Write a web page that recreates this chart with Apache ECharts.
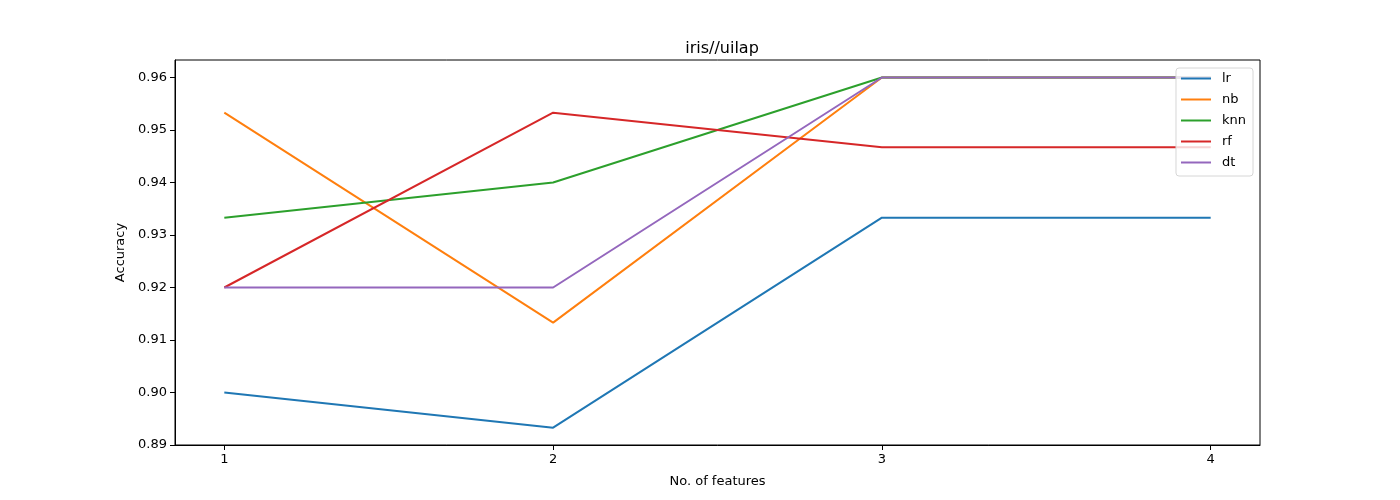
<!DOCTYPE html>
<html>
<head>
<meta charset="utf-8">
<title>iris//uilap</title>
<script src="https://cdn.jsdelivr.net/npm/echarts@6/dist/echarts.min.js"></script>
<style>
  html, body { margin: 0; padding: 0; background: #fff; }
  #main { width: 1400px; height: 500px; }
</style>
</head>
<body>
<div id="main"></div>
<script>
// 数据
const features = [1, 2, 3, 4]
const lr = [0.9, 0.8933, 0.9333, 0.9333]
const nb = [0.9533, 0.9133, 0.96, 0.96]
const knn = [0.9333, 0.94, 0.96, 0.96]
const rf = [0.92, 0.9533, 0.9467, 0.9467]
const dt = [0.92, 0.92, 0.96, 0.96]
const yTicks = [0.89, 0.90, 0.91, 0.92, 0.93, 0.94, 0.95, 0.96]

const names = ['lr', 'nb', 'knn', 'rf', 'dt']
const values = [lr, nb, knn, rf, dt]
const colors = ['#1f77b4', '#ff7f0e', '#2ca02c', '#d62728', '#9467bd']

const font = 'DejaVu Sans'

var myChart = echarts.init(document.querySelector('#main'))

// 坐标轴公共样式
const axisCommon = {
  axisLine: { show: true, onZero: false, lineStyle: { color: '#000', width: 1 } },
  axisTick: { show: true, inside: false, length: 5, lineStyle: { color: '#000' } },
  splitLine: { show: false },
  axisLabel: { color: '#000', fontFamily: font, fontSize: 13 },
  nameTextStyle: { color: '#000', fontFamily: font, fontSize: 13 }
}

option = {
  animation: false,
  color: colors,
  title: {
    text: 'iris//uilap',
    left: 717,
    textAlign: 'center',
    top: 36,
    textStyle: { fontFamily: font, fontSize: 16, fontWeight: 'normal', color: '#000' }
  },
  grid: { left: 175, right: 140, top: 60, bottom: 55, show: true, borderColor: '#000', borderWidth: 1 },
  xAxis: Object.assign({}, axisCommon, {
    type: 'value',
    min: 0.85,
    max: 4.15,
    name: 'No. of features',
    nameLocation: 'middle',
    nameGap: 30,
    axisTick: Object.assign({}, axisCommon.axisTick, { customValues: features }),
    axisLabel: Object.assign({}, axisCommon.axisLabel, { customValues: features, margin: 8 })
  }),
  yAxis: Object.assign({}, axisCommon, {
    type: 'value',
    min: 0.89,
    max: 0.96333,
    name: 'Accuracy',
    nameLocation: 'middle',
    nameGap: 47,
    axisTick: Object.assign({}, axisCommon.axisTick, { customValues: yTicks }),
    axisLabel: Object.assign({}, axisCommon.axisLabel, {
      customValues: yTicks,
      margin: 8,
      formatter: v => v.toFixed(2)
    })
  }),
  legend: {
    orient: 'vertical',
    right: 147,
    top: 68,
    icon: 'rect',
    itemWidth: 30,
    itemHeight: 2,
    itemGap: 8,
    padding: [4, 7, 7, 5],
    backgroundColor: 'rgba(255,255,255,0.8)',
    borderColor: '#d6d6d6',
    borderWidth: 1,
    borderRadius: 3,
    textStyle: { fontFamily: font, fontSize: 13, color: '#000', lineHeight: 13, padding: [0, 0, 0, 6] },
    data: names
  },
  series: names.map((n, i) => ({
    name: n,
    type: 'line',
    data: features.map((f, j) => [f, values[i][j]]),
    showSymbol: false,
    symbol: 'none',
    lineStyle: { width: 2, color: colors[i] }
  }))
}

myChart.setOption(option)
</script>
</body>
</html>
